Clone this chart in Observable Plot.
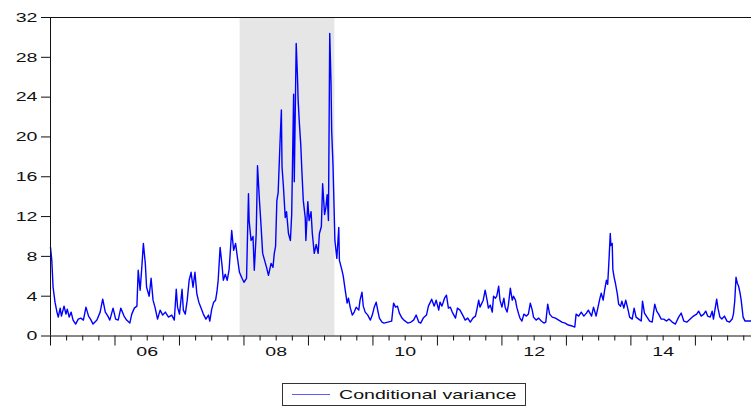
<!DOCTYPE html>
<html>
<head>
<meta charset="utf-8">
<script src="https://cdn.jsdelivr.net/npm/d3@7"></script>
<script src="https://cdn.jsdelivr.net/npm/@observablehq/plot@0.6"></script>
<style>
  body { margin: 0; background: #fff; font-family: "Liberation Sans", Arial, sans-serif; }
  #chart { width: 751px; }
  .legend { position: relative; width: 751px; height: 38px; }
  .legend .box {
    position: absolute; left: 282px; top: 13px; width: 244px; height: 23px;
    border: 1px solid #333; box-sizing: border-box;
  }
  .legend .swatch { position: absolute; left: 9px; top: 10px; width: 38px; height: 1px; background: #5c5cff; }
  .legend .label {
    position: absolute; left: 56px; top: 2px; font-size: 13.5px; line-height: 17px; color: #111;
    transform: scaleX(1.45); transform-origin: left center; white-space: nowrap;
  }
</style>
</head>
<body>
<div id="chart"></div>
<div class="legend"><div class="box"><div class="swatch"></div><div class="label">Conditional variance</div></div></div>
<script>
// Conditional variance, decimal year vs. value
const years = [
  2005.00, 2005.02, 2005.04, 2005.07, 2005.10, 2005.12, 2005.15, 2005.17, 2005.21, 2005.24,
  2005.26, 2005.29, 2005.32, 2005.35, 2005.39, 2005.43, 2005.47, 2005.51, 2005.55, 2005.59,
  2005.62, 2005.66, 2005.72, 2005.77, 2005.80, 2005.81, 2005.85, 2005.89, 2005.92, 2005.97,
  2006.01, 2006.05, 2006.09, 2006.14, 2006.18, 2006.23, 2006.26, 2006.30, 2006.34, 2006.36,
  2006.39, 2006.42, 2006.44, 2006.47, 2006.49, 2006.53, 2006.56, 2006.59, 2006.62, 2006.66,
  2006.70, 2006.74, 2006.78, 2006.83, 2006.88, 2006.92, 2006.95, 2006.97, 2007.00, 2007.04,
  2007.06, 2007.09, 2007.12, 2007.15, 2007.18, 2007.21, 2007.24, 2007.27, 2007.30, 2007.33,
  2007.37, 2007.41, 2007.45, 2007.47, 2007.50, 2007.53, 2007.56, 2007.58, 2007.60, 2007.63,
  2007.66, 2007.68, 2007.71, 2007.74, 2007.77, 2007.81, 2007.84, 2007.87, 2007.90, 2007.93,
  2007.97, 2008.00, 2008.04, 2008.07, 2008.08, 2008.11, 2008.14, 2008.16, 2008.19, 2008.21,
  2008.24, 2008.26, 2008.29, 2008.32, 2008.35, 2008.38, 2008.42, 2008.45, 2008.47, 2008.49,
  2008.51, 2008.53, 2008.56, 2008.58, 2008.59, 2008.61, 2008.64, 2008.66, 2008.69, 2008.72,
  2008.74, 2008.77, 2008.78, 2008.81, 2008.83, 2008.84, 2008.86, 2008.88, 2008.90, 2008.92,
  2008.95, 2008.96, 2008.99, 2009.01, 2009.04, 2009.06, 2009.09, 2009.12, 2009.15, 2009.17,
  2009.20, 2009.22, 2009.25, 2009.27, 2009.29, 2009.31, 2009.33, 2009.35, 2009.36, 2009.38,
  2009.40, 2009.41, 2009.44, 2009.47, 2009.48, 2009.52, 2009.54, 2009.57, 2009.60, 2009.62,
  2009.65, 2009.68, 2009.71, 2009.74, 2009.78, 2009.80, 2009.83, 2009.85, 2009.88, 2009.92,
  2009.96, 2009.99, 2010.02, 2010.05, 2010.08, 2010.10, 2010.14, 2010.17, 2010.23, 2010.29,
  2010.32, 2010.35, 2010.38, 2010.41, 2010.45, 2010.48, 2010.54, 2010.59, 2010.63, 2010.67,
  2010.71, 2010.74, 2010.78, 2010.83, 2010.86, 2010.89, 2010.91, 2010.95, 2010.98, 2011.02,
  2011.04, 2011.07, 2011.11, 2011.14, 2011.17, 2011.20, 2011.23, 2011.28, 2011.31, 2011.35,
  2011.40, 2011.43, 2011.47, 2011.51, 2011.55, 2011.59, 2011.61, 2011.64, 2011.66, 2011.71,
  2011.74, 2011.77, 2011.79, 2011.82, 2011.85, 2011.87, 2011.90, 2011.92, 2011.95, 2011.97,
  2012.00, 2012.03, 2012.05, 2012.08, 2012.10, 2012.13, 2012.16, 2012.18, 2012.21, 2012.23,
  2012.26, 2012.28, 2012.31, 2012.34, 2012.38, 2012.41, 2012.44, 2012.47, 2012.49, 2012.53,
  2012.57, 2012.61, 2012.65, 2012.68, 2012.71, 2012.74, 2012.78, 2012.83, 2012.88, 2012.93,
  2012.98, 2013.03, 2013.09, 2013.13, 2013.15, 2013.19, 2013.23, 2013.27, 2013.31, 2013.34,
  2013.39, 2013.42, 2013.46, 2013.49, 2013.52, 2013.54, 2013.57, 2013.59, 2013.62, 2013.64,
  2013.66, 2013.68, 2013.69, 2013.71, 2013.72, 2013.74, 2013.76, 2013.79, 2013.81, 2013.84,
  2013.86, 2013.89, 2013.92, 2013.95, 2013.98, 2014.02, 2014.05, 2014.08, 2014.12, 2014.16,
  2014.18, 2014.21, 2014.25, 2014.29, 2014.33, 2014.37, 2014.40, 2014.43, 2014.47, 2014.51,
  2014.55, 2014.59, 2014.64, 2014.69, 2014.74, 2014.78, 2014.82, 2014.87, 2014.92, 2014.97,
  2015.02, 2015.05, 2015.09, 2015.13, 2015.16, 2015.19, 2015.23, 2015.26, 2015.28, 2015.33,
  2015.35, 2015.38, 2015.41, 2015.45, 2015.49, 2015.53, 2015.57, 2015.59, 2015.61, 2015.63,
  2015.65, 2015.67, 2015.69, 2015.71, 2015.74, 2015.77, 2015.83, 2015.87
];
const variance = [
  8.9, 7.6, 4.9, 3.4, 2.4, 1.9, 2.8, 2.0, 3.0, 2.2,
  2.7, 1.9, 2.4, 1.6, 1.2, 1.7, 1.8, 1.6, 2.9, 2.0,
  1.7, 1.2, 1.6, 2.4, 3.4, 3.7, 2.4, 2.0, 1.6, 2.8,
  1.7, 1.6, 2.8, 2.0, 1.6, 1.3, 2.2, 2.8, 3.0, 6.6,
  4.6, 7.3, 9.3, 7.3, 4.9, 4.0, 5.8, 3.6, 2.9, 1.7,
  2.6, 2.1, 2.4, 1.9, 2.1, 1.6, 4.7, 2.9, 2.2, 4.7,
  2.6, 2.2, 3.6, 5.6, 6.4, 4.9, 6.4, 4.2, 3.4, 2.9,
  2.2, 1.7, 2.1, 1.5, 2.7, 3.4, 3.6, 4.4, 5.6, 8.9,
  7.1, 5.6, 6.2, 5.6, 6.7, 10.6, 8.6, 9.3, 7.8, 6.4,
  5.8, 5.4, 5.8, 14.3, 11.6, 9.6, 10.0, 6.6, 10.3, 17.1,
  13.6, 11.6, 8.3, 7.6, 6.9, 6.1, 7.3, 6.9, 8.3, 9.0,
  13.6, 14.4, 19.6, 22.7, 17.0, 15.2, 11.9, 12.5, 10.3, 9.6,
  12.2, 24.3, 15.5, 29.4, 26.0, 23.7, 21.3, 19.3, 16.3, 13.6,
  11.9, 9.6, 13.5, 11.6, 12.5, 10.3, 8.3, 9.2, 8.3, 10.3,
  11.0, 15.3, 12.2, 12.9, 14.2, 11.6, 30.4, 25.4, 20.6, 17.3,
  12.2, 9.6, 7.8, 10.9, 7.6, 6.6, 6.0, 4.6, 3.3, 3.8,
  2.8, 2.1, 2.4, 2.9, 2.6, 3.6, 4.4, 3.0, 2.4, 2.1,
  1.6, 2.1, 2.9, 3.4, 2.4, 1.8, 1.4, 1.3, 1.4, 1.5,
  3.3, 2.9, 3.0, 2.3, 1.8, 1.6, 1.3, 1.4, 1.6, 2.1,
  1.4, 1.3, 1.8, 2.1, 3.0, 3.4, 3.7, 3.0, 3.6, 2.6,
  3.4, 3.0, 3.8, 4.1, 2.8, 2.9, 2.4, 1.8, 2.8, 2.6,
  2.0, 1.6, 1.8, 1.4, 1.8, 2.0, 2.6, 3.6, 2.9, 3.6,
  4.6, 3.6, 2.8, 3.1, 2.4, 4.0, 3.8, 4.0, 5.0, 3.6,
  2.9, 3.8, 2.9, 2.4, 3.1, 4.8, 3.6, 4.0, 3.6, 2.9,
  2.2, 1.8, 1.5, 2.2, 2.0, 2.2, 3.3, 2.6, 1.9, 1.6,
  1.8, 1.5, 1.3, 1.4, 3.2, 2.2, 1.9, 1.8, 1.6, 1.4,
  1.3, 1.1, 1.0, 0.9, 2.2, 2.0, 2.4, 2.0, 2.3, 2.6,
  2.0, 2.9, 2.0, 2.9, 3.8, 4.3, 3.6, 4.5, 5.6, 5.2,
  7.6, 10.3, 9.1, 9.3, 6.7, 5.9, 5.3, 4.2, 3.2, 3.0,
  3.5, 2.8, 3.6, 2.8, 1.9, 1.7, 2.8, 1.9, 1.7, 1.5,
  3.5, 2.3, 1.9, 1.5, 1.4, 3.2, 2.5, 2.2, 1.7, 1.7,
  1.5, 1.7, 1.4, 1.2, 1.9, 2.3, 1.5, 1.4, 1.7, 2.0,
  2.2, 2.5, 2.0, 2.2, 2.5, 2.0, 1.9, 2.5, 1.7, 3.7,
  2.8, 1.9, 1.7, 2.0, 1.5, 1.4, 1.7, 2.2, 3.5, 5.9,
  5.3, 5.0, 4.4, 3.6, 1.9, 1.5, 1.5, 1.5
];

// Shaded period (decimal years)
const shadeStart = 2007.94;
const shadeEnd = 2009.41;

// Axis ticks and labels
const yTicks = [0, 4, 8, 12, 16, 20, 24, 28, 32];
const labelYears = [2006, 2008, 2010, 2012, 2014];
const yearTicks = [2005, 2006, 2007, 2008, 2009, 2010, 2011, 2012, 2013, 2014, 2015];
const xDomain = [2005, 2015.87];

const series = years.map((t, i) => ({t, v: variance[i]}));
const quarterTicks = d3.range(2005.25, xDomain[1], 0.25).filter(q => q % 1 !== 0);
const labelPositions = labelYears.map(y => y + 0.5);

const chart = Plot.plot({
  width: 751,
  height: 370,
  marginLeft: 50,
  marginRight: 0,
  marginTop: 17,
  marginBottom: 34.5,
  x: {domain: xDomain},
  y: {domain: [0, 32]},
  style: {fontFamily: '"Liberation Sans", Arial, sans-serif', fontSize: "13.5px", color: "#111", background: "#fff", overflow: "visible"},
  marks: [
    Plot.rect([{x1: shadeStart, x2: shadeEnd}], {x1: "x1", x2: "x2", y1: 0, y2: 32, fill: "#e6e6e6"}),
    Plot.line(series, {x: "t", y: "v", stroke: "#0000ff", strokeWidth: 1.4}),
    Plot.ruleY([0, 32], {stroke: "#111"}),
    Plot.ruleX([xDomain[0]], {stroke: "#111"}),
    Plot.axisY(yTicks, {anchor: "left", tickSize: 9, tickPadding: 4, label: null}),
    Plot.axisX(quarterTicks, {anchor: "bottom", tickSize: 5, tickFormat: () => "", label: null}),
    Plot.axisX(yearTicks, {anchor: "bottom", tickSize: 10, tickFormat: () => "", label: null}),
    Plot.axisX(labelPositions, {anchor: "bottom", tickSize: 0, tickPadding: 10, tickFormat: d => String(Math.floor(d) % 100).padStart(2, "0"), label: null})
  ]
});

// widen the axis lettering
chart.querySelectorAll('[aria-label$="tick label"] text').forEach(t => {
  const tr = t.getAttribute("transform") || "";
  t.setAttribute("transform", tr + " scale(1.45,1)");
});

document.getElementById("chart").appendChild(chart);
</script>
</body>
</html>
